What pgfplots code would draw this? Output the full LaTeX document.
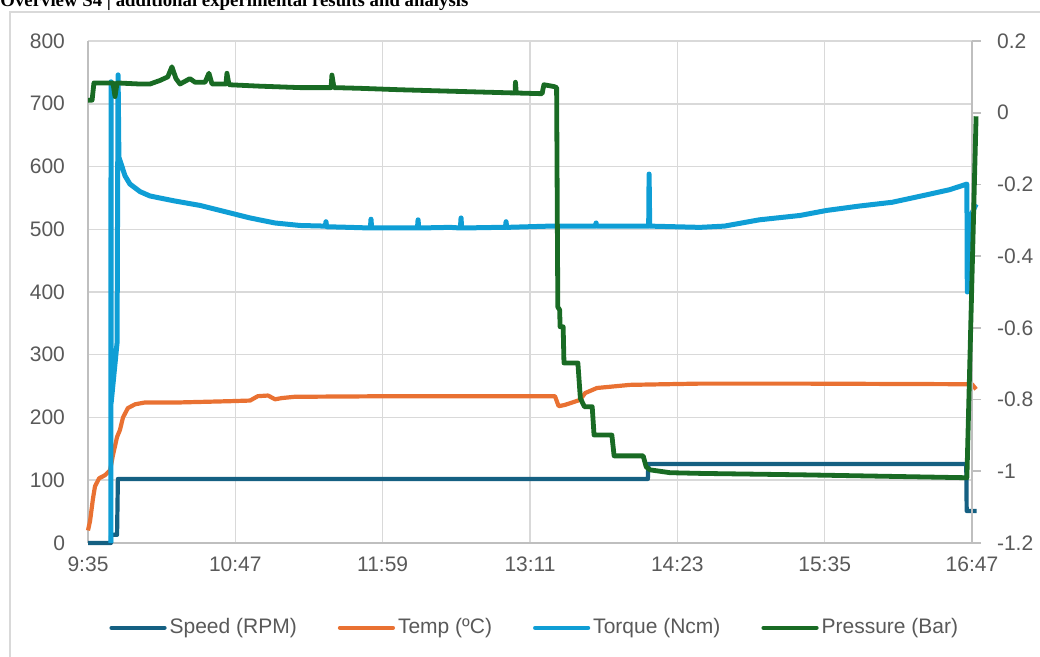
\documentclass[border=0pt]{standalone}
\usepackage{pgfplots}
\pgfplotsset{compat=1.18}
\usepackage{fontspec}
\setmainfont{Liberation Sans}
\newfontfamily\titlefont{Liberation Serif}

\definecolor{speedc}{HTML}{156082}
\definecolor{tempc}{HTML}{E97132}
\definecolor{torquec}{HTML}{0F9ED5}
\definecolor{presc}{HTML}{196B24}
\definecolor{gridc}{HTML}{D9D9D9}
\definecolor{axisc}{HTML}{BFBFBF}
\definecolor{labelc}{HTML}{595959}

\pgfplotsset{
  common/.style={
    scale only axis,
    width=442pt, height=251pt,
    at={(44pt,57pt)}, anchor=south west,
    xmin=0, xmax=432,
    clip=false,
    font=\fontsize{10.5}{12}\selectfont,
    tick label style={color=labelc},
    /pgf/number format/assume math mode=true,
    every axis plot/.append style={line width=2.1pt, line join=round},
  },
}

\begin{document}
\begin{tikzpicture}
% chart frame and title
\draw[gridc, line width=0.8pt] (5pt,-20pt) -- (5pt,322.5pt) -- (540pt,322.5pt);
\node[anchor=base west, inner sep=0pt, font=\titlefont\bfseries\fontsize{9.4}{11}\selectfont]
  at (0pt,325pt) {Overview S4 | additional experimental results and analysis};

\begin{axis}[common,
  ymin=0, ymax=800, ytick={0,100,...,800},
  xtick={0,72,...,432},
  xticklabels={9:35,10:47,11:59,13:11,14:23,15:35,16:47},
  grid=major,
  major grid style={draw=gridc, line width=0.75pt},
  axis x line*=bottom, axis y line*=left,
  axis line style={draw=axisc, line width=1pt, -},
  tick style={draw=none},
  yticklabel style={xshift=-8pt},
  xticklabel style={yshift=-3.5pt},
]
% Speed (RPM)
\addplot[speedc] coordinates {
 (0,0) (11.2,0) (11.3,13) (14.2,13) (14.6,102) (273.6,102) (273.8,126)
 (429.2,126) (429.4,51) (434.2,51)
};
% Temp (C)
\addplot[tempc] coordinates {
 (0,20) (1,35) (2.4,70) (3.4,90) (5.4,103) (8.3,108) (10.8,116) (12.2,140)
 (14.2,169) (15.6,180) (17.1,200) (19.5,215) (23,221) (27.9,224) (45,224)
 (69.4,226) (79.2,227) (83,234) (88,235) (91.4,229) (94.8,231) (101,233)
 (152,234) (228.2,234) (229.2,225) (230,218) (233,220) (240.4,228) (243,239)
 (248.7,247) (264.9,252) (299,254) (348,254) (432,253) (434,245)
};
% Torque (Ncm)
\addplot[torquec, line width=2.5pt] coordinates {
 (11.2,0) (11.25,735) (11.3,223) (14.2,319) (14.7,746) (15.1,615)
 (16.6,600) (18.1,585) (20.5,572) (25.4,560) (30.3,553) (42.5,545)
 (54.7,538) (67,528) (79.2,518) (91.4,510) (103.6,506) (116,505) (116.3,512)
 (116.6,504) (128,503) (138,502) (138.3,516) (138.6,502) (152.5,502)
 (161,502) (161.3,515) (161.6,502) (177,503) (182,502) (182.3,518) (182.6,502)
 (201,503) (204,503) (204.3,512) (204.6,503) (225.8,505) (248,505)
 (248.3,510) (248.6,505) (274,505) (274.2,588) (274.5,505) (299,503)
 (311,505) (328,515) (348,522) (361,530) (377,537) (393,543) (410,555)
 (421,563) (429.5,572) (429.7,400) (430.5,515) (434,540)
};
\end{axis}

\begin{axis}[common,
  ymin=-1.2, ymax=0.2,
  ytick={-1.2,-1,-0.8,-0.6,-0.4,-0.2,0,0.2},
  yticklabels={-1.2,-1,-0.8,-0.6,-0.4,-0.2,0,0.2},
  axis x line=none, axis y line*=right,
  axis line style={draw=axisc, line width=1pt, -},
  ytick pos=right, tick align=outside, major tick length=4.5pt,
  tick style={draw=axisc, line width=0.8pt},
  yticklabel style={xshift=4.5pt, anchor=west},
  legend columns=4,
  legend style={at={(0.506,-0.169)}, anchor=center, draw=none, fill=none,
    font=\fontsize{10.5}{12}\selectfont, text=labelc,
    /tikz/every even column/.append style={column sep=19pt},
    nodes={inner sep=1.5pt}},
  legend image code/.code={\draw[#1, line width=2.1pt, line cap=round] (0pt,0pt) -- (26.5pt,0pt);},
]
\addlegendimage{speedc}
\addlegendentry{Speed (RPM)}
\addlegendimage{tempc}
\addlegendentry{Temp (ºC)}
\addlegendimage{torquec}
\addlegendentry{Torque (Ncm)}
% Pressure (Bar)
\addplot[presc, line width=2.4pt] coordinates {
 (0,0.035) (2,0.035) (2.9,0.083) (12.2,0.083) (13.2,0.045) (14.2,0.083)
 (25.4,0.08) (30.3,0.08) (35.2,0.09) (39,0.1) (41,0.128) (43,0.095) (45,0.08)
 (49.8,0.095) (52.3,0.085) (57.2,0.085) (59.1,0.11) (60.6,0.08) (67.4,0.08)
 (67.9,0.11) (68.9,0.078) (84,0.074) (103.6,0.07) (118.8,0.07) (119.2,0.105)
 (120.2,0.07) (133,0.068) (152.5,0.064) (177,0.06) (208.7,0.055) (208.9,0.085)
 (209.3,0.055) (221.9,0.053) (222.8,0.078) (227.7,0.073) (229,0.07)
 (229.4,-0.35) (229.6,-0.542) (230.5,-0.55) (230.7,-0.597) (232.2,-0.597)
 (232.6,-0.698) (239.4,-0.698) (240.6,-0.796) (242.6,-0.82) (246.4,-0.82)
 (247.3,-0.899) (256,-0.899) (257.1,-0.957) (271.3,-0.957) (272.8,-0.988)
 (274.7,-0.996) (284.5,-1.004) (300,-1.006) (350,-1.01) (400,-1.015)
 (429.5,-1.018) (434,-0.01)
};
\addlegendentry{Pressure (Bar)}
\end{axis}
\pgfresetboundingbox
\useasboundingbox (0pt,0pt) rectangle (520pt,328.5pt);
\end{tikzpicture}
\end{document}
